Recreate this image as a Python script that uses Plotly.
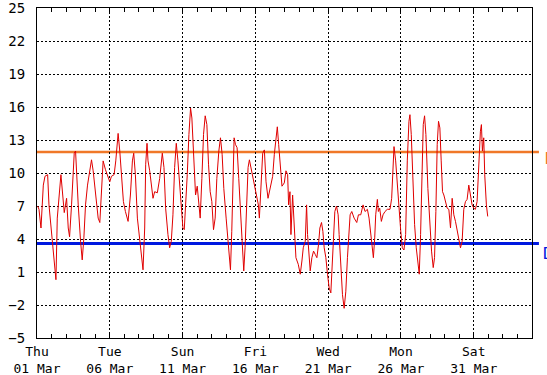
import pandas as pd
import plotly.graph_objects as go

start_date = "2012-03-01"

day_offsets = [
    0.046, 0.137, 0.274, 0.434, 0.548, 0.731, 0.822, 1.005, 1.187, 1.301, 1.393, 1.644,
    1.872, 2.032, 2.146, 2.237, 2.374, 2.489, 2.557, 2.648, 2.717, 2.831, 2.991, 3.105,
    3.219, 3.333, 3.470, 3.630, 3.744, 3.858, 4.018, 4.201, 4.315, 4.429, 4.543, 4.703,
    4.840, 5.000, 5.114, 5.297, 5.411, 5.525, 5.571, 5.685, 5.799, 5.936, 6.073, 6.256,
    6.416, 6.553, 6.644, 6.758, 6.895, 7.055, 7.215, 7.283, 7.397, 7.466, 7.557, 7.626,
    7.740, 7.854, 7.968, 8.082, 8.265, 8.425, 8.539, 8.607, 8.721,
    8.836, 8.995, 9.110, 9.224, 9.338, 9.452, 9.566, 9.680, 9.795, 9.909, 10.023, 10.114,
    10.205, 10.320, 10.434, 10.548, 10.639, 10.753, 10.890, 11.005, 11.119, 11.210, 11.324,
    11.438, 11.553, 11.667, 11.781, 11.895, 12.009, 12.123, 12.237, 12.352, 12.489, 12.603,
    12.717, 12.831, 12.991, 13.105, 13.219, 13.288, 13.379, 13.447, 13.539, 13.630, 13.744,
    13.858, 13.973, 14.087, 14.201, 14.292, 14.406, 14.498, 14.589, 14.703, 14.863, 15.046,
    15.205, 15.274, 15.388, 15.502, 15.616, 15.731, 15.868, 16.027, 16.187, 16.301, 16.416,
    16.507, 16.598,
    16.712, 16.826, 16.986, 17.100, 17.215, 17.283, 17.375, 17.443, 17.557, 17.671, 17.785,
    17.945, 18.082, 18.196, 18.288, 18.425, 18.516, 18.584, 18.653, 18.767, 18.881, 18.995,
    19.110, 19.224, 19.338, 19.429, 19.543, 19.635, 19.726, 19.840, 19.954, 20.068, 20.183,
    20.297, 20.365, 20.457, 20.571, 20.685, 20.753, 20.868, 20.982, 21.096, 21.210, 21.324,
    21.438, 21.507, 21.621, 21.781, 21.963, 22.078, 22.237, 22.397, 22.534, 22.694, 22.808,
    22.922, 23.037, 23.105, 23.196, 23.265, 23.379, 23.447, 23.539, 23.653, 23.767, 23.904,
    24.064, 24.247, 24.361, 24.452, 24.521,
    24.635, 24.749, 24.863, 24.977, 25.091, 25.205, 25.320, 25.434, 25.548, 25.616, 25.708,
    25.822, 25.936, 26.050, 26.164, 26.256, 26.347, 26.438, 26.530, 26.621, 26.712, 26.849,
    26.986, 27.100, 27.215, 27.306, 27.397, 27.489, 27.580, 27.671, 27.763, 27.854, 27.945,
    28.059, 28.174, 28.288, 28.402, 28.516, 28.630, 28.744, 28.858, 28.973, 29.087, 29.201,
    29.315, 29.429, 29.543, 29.658, 29.772, 29.886, 30.000, 30.114, 30.228, 30.342, 30.457,
    30.525, 30.594, 30.685, 30.753, 30.867, 30.959,
]

temps = [
    7.0, 6.7, 5.0, 8.9, 9.7, 9.85, 7.1, 4.4, 2.3, 0.3, 5.9, 9.85,
    6.4, 7.7, 5.0, 4.2, 7.1, 10.2, 11.8, 12.0, 9.85, 7.1, 3.8, 2.1,
    4.1, 7.1, 8.9, 10.2, 11.2, 10.2, 8.0, 5.9, 5.5, 8.6, 11.1, 10.3,
    9.7, 9.2, 9.7, 9.85, 11.1, 12.9, 13.6, 12.0, 10.2, 7.4, 6.5, 5.6,
    8.0, 11.1, 11.8, 9.85, 5.9, 4.1, 2.3, 1.2, 5.0, 10.8, 12.7, 11.1,
    10.2, 8.6, 7.7, 8.3, 8.2, 9.5, 11.1, 11.8, 10.5,
    6.8, 4.4, 3.2, 3.8, 6.2, 10.5, 12.7, 11.1, 9.2, 7.1, 5.0, 4.85,
    6.8, 9.85, 13.5, 15.9, 15.0, 11.1, 8.0, 8.8, 6.8, 5.9, 9.5,
    13.5, 15.2, 14.4, 10.8, 8.3, 7.4, 4.85, 5.9, 9.5, 12.0, 13.2,
    11.7, 8.6, 5.9, 3.8, 2.3, 1.2, 4.7, 9.85, 13.2, 12.6, 12.3,
    9.5, 6.5, 3.8, 1.1, 3.2, 8.0, 10.5, 11.2, 10.5, 9.2, 8.3,
    7.1, 5.9, 9.2, 11.8, 12.1, 9.2, 7.7, 8.6, 9.7, 11.7, 13.5,
    14.2, 12.6,
    10.2, 8.8, 9.1, 10.2, 9.85, 7.1, 8.3, 4.4, 8.0, 5.0, 2.3,
    1.7, 0.8, 2.0, 3.2, 3.8, 7.1, 4.4, 3.2, 1.1, 2.3, 2.9,
    2.6, 2.3, 3.5, 5.0, 5.5, 4.7, 3.2, 2.3, 0.8, -0.45, -0.9,
    2.0, 4.4, 6.5, 7.0, 6.2, 4.4, 1.4, -1.06, -2.3, -0.8, 2.3,
    4.4, 6.2, 6.5, 5.9, 5.5, 6.2, 6.2, 7.1, 6.5, 6.7, 5.9,
    4.4, 3.5, 2.3, 4.1, 6.2, 7.6, 6.5, 6.8, 5.6, 6.2, 6.5,
    6.7, 6.7, 7.7, 11.1, 12.4,
    11.1, 8.9, 6.5, 4.85, 3.2, 3.0, 4.4, 11.1, 14.7, 15.3, 13.5,
    9.2, 5.3, 3.2, 1.7, 0.8, 4.4, 11.1, 14.4, 15.2, 13.5, 8.6,
    5.3, 2.9, 1.4, 2.3, 6.5, 12.6, 14.7, 14.1, 11.1, 8.3, 8.0,
    7.4, 6.8, 6.7, 5.0, 7.7, 6.2, 5.6, 4.7, 3.8, 3.2, 3.8,
    6.7, 7.4, 7.6, 8.9, 8.0, 7.1, 6.8, 6.7, 7.4, 11.1, 13.8,
    14.4, 12.0, 13.2, 9.85, 7.1, 6.05,
]

upper_level = 11.9
lower_level = 3.6

x_tick_dates = ["2012-03-01", "2012-03-06", "2012-03-11", "2012-03-16",
                "2012-03-21", "2012-03-26", "2012-03-31"]
x_tick_labels = ["Thu<br>01 Mar", "Tue<br>06 Mar", "Sun<br>11 Mar", "Fri<br>16 Mar",
                 "Wed<br>21 Mar", "Mon<br>26 Mar", "Sat<br>31 Mar"]
y_ticks = [-5, -2, 1, 4, 7, 10, 13, 16, 19, 22, 25]
x_range = ["2012-03-01", "2012-04-04"]

times = pd.Timestamp(start_date) + pd.to_timedelta(day_offsets, unit="D")

fig = go.Figure()
fig.add_trace(go.Scatter(
    x=times, y=temps, mode="lines",
    line=dict(color="#e00000", width=1),
    showlegend=False, hoverinfo="skip",
))

font_family = "DejaVu Sans Mono"

fig.add_shape(type="line", xref="paper", yref="y", x0=0, x1=1.014,
              y0=upper_level, y1=upper_level, layer="between",
              line=dict(color="#f07828", width=2.5))
fig.add_shape(type="line", xref="paper", yref="y", x0=0, x1=1.014,
              y0=lower_level, y1=lower_level, layer="between",
              line=dict(color="#0018e0", width=3))

fig.add_annotation(text="D", xref="paper", yref="y", x=1.022, y=upper_level - 0.6,
                   xanchor="left", yanchor="middle", showarrow=False,
                   font=dict(family=font_family, size=15, color="#f07828"))
fig.add_annotation(text="D", xref="paper", yref="y", x=1.019, y=lower_level - 0.95,
                   xanchor="left", yanchor="middle", showarrow=False,
                   font=dict(family=font_family, size=16, color="#0018e0"))

fig.update_layout(
    width=547, height=375,
    margin=dict(l=37, r=15, t=8, b=37, autoexpand=False),
    paper_bgcolor="white", plot_bgcolor="white",
    font=dict(family=font_family, size=13, color="black"),
)

grid_dash = "2px,2px"

fig.update_xaxes(
    type="date", range=x_range, automargin=False, ticklabeloverflow="allow",
    tickmode="array", tickvals=x_tick_dates, ticktext=x_tick_labels,
    showgrid=True, gridcolor="black", griddash=grid_dash, gridwidth=1,
    showline=True, linecolor="black", linewidth=1, mirror="ticks",
    ticks="inside", ticklen=4, tickcolor="black", ticklabelstandoff=1,
    minor=dict(dtick=86400000, tick0="2012-03-01", ticks="inside", ticklen=4,
               tickcolor="black", showgrid=False),
    tickfont=dict(family=font_family, size=13, color="black"),
    zeroline=False,
)
fig.update_yaxes(
    range=[-5, 25], tickmode="array", tickvals=y_ticks, automargin=False,
    ticklabeloverflow="allow",
    showgrid=True, gridcolor="black", griddash=grid_dash, gridwidth=1,
    showline=True, linecolor="black", linewidth=1, mirror=True,
    ticks="", ticklabelstandoff=8,
    tickfont=dict(family=font_family, size=14, color="black"),
    zeroline=False,
)

fig.write_html("out.html",
               config={"displayModeBar": False},
               post_script="document.body.style.margin='0';document.body.style.overflow='hidden';")
